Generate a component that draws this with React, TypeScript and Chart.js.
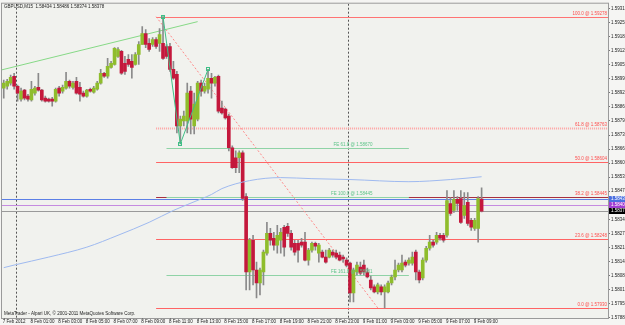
import React, { useEffect, useRef } from 'react';
import { Chart, registerables } from 'chart.js';

Chart.register(...registerables);

const FONT = 'Liberation Sans';
const SLOT_COUNT = 175;

const opens = [
  1.58947, 1.58956, 1.58970, 1.59002, 1.58956, 1.58896, 1.58938, 1.58910, 1.58892, 1.58924,
  1.58951, 1.58938, 1.58901, 1.58896, 1.58896, 1.58887, 1.58947, 1.58933, 1.58947, 1.58979,
  1.58951, 1.58979, 1.58951, 1.58924, 1.58910, 1.58942, 1.58928, 1.58942, 1.58970, 1.59016,
  1.59002, 1.59043, 1.59057, 1.59094, 1.59117, 1.59062, 1.59080, 1.59071, 1.59057, 1.59103,
  1.59149, 1.59200, 1.59154, 1.59149, 1.59172, 1.59154, 1.59154, 1.59140, 1.59140, 1.59034,
  1.59011, 1.58772, 1.58795, 1.58795, 1.58933, 1.58772, 1.58804, 1.58970, 1.58933, 1.58942,
  1.58993, 1.58970, 1.59002, 1.58855, 1.58850, 1.58818, 1.58671, 1.58625, 1.58625, 1.58648,
  1.58445, 1.58096, 1.58243, 1.58105, 1.58045, 1.58096, 1.58183, 1.58275, 1.58252, 1.58220,
  1.58243, 1.58303, 1.58307, 1.58275, 1.58229, 1.58229, 1.58234, 1.58234, 1.58151, 1.58197,
  1.58229, 1.58183, 1.58188, 1.58165, 1.58165, 1.58188, 1.58183, 1.58174, 1.58165, 1.58151,
  1.58137, 1.57999, 1.58096, 1.58119, 1.58128, 1.58096, 1.58059, 1.58027, 1.58004, 1.58027,
  1.58004, 1.58004, 1.58045, 1.58073, 1.58105, 1.58105, 1.58142, 1.58137, 1.58137, 1.58188,
  1.58096, 1.58068, 1.58151, 1.58206, 1.58234, 1.58234, 1.58266, 1.58266, 1.58266, 1.58413,
  1.58381, 1.58432, 1.58436, 1.58358, 1.58418, 1.58335, 1.58298, 1.58298, 1.58434,
];
const highs = [
  1.58984, 1.58988, 1.59007, 1.59016, 1.58961, 1.58947, 1.58942, 1.58919, 1.58979, 1.58956,
  1.59016, 1.58942, 1.58910, 1.58901, 1.58905, 1.58947, 1.58956, 1.58961, 1.59020, 1.58984,
  1.58979, 1.58997, 1.58974, 1.58933, 1.58942, 1.58947, 1.58956, 1.58979, 1.59034, 1.59020,
  1.59085, 1.59071, 1.59135, 1.59135, 1.59122, 1.59094, 1.59103, 1.59103, 1.59112, 1.59163,
  1.59232, 1.59218, 1.59177, 1.59181, 1.59181, 1.59223, 1.59278, 1.59149, 1.59154, 1.59071,
  1.59025, 1.58818, 1.58841, 1.58970, 1.58956, 1.58924, 1.58979, 1.58984, 1.58970, 1.59034,
  1.59016, 1.59002, 1.59007, 1.58887, 1.58855, 1.58827, 1.58680, 1.58657, 1.58657, 1.58657,
  1.58459, 1.58252, 1.58266, 1.58142, 1.58114, 1.58197, 1.58326, 1.58298, 1.58280, 1.58312,
  1.58298, 1.58312, 1.58321, 1.58289, 1.58243, 1.58243, 1.58252, 1.58280, 1.58206, 1.58234,
  1.58234, 1.58229, 1.58197, 1.58197, 1.58206, 1.58197, 1.58197, 1.58188, 1.58174, 1.58161,
  1.58142, 1.58114, 1.58142, 1.58142, 1.58151, 1.58114, 1.58077, 1.58036, 1.58045, 1.58036,
  1.58036, 1.58054, 1.58082, 1.58151, 1.58137, 1.58174, 1.58151, 1.58161, 1.58188, 1.58197,
  1.58105, 1.58161, 1.58215, 1.58266, 1.58243, 1.58280, 1.58275, 1.58275, 1.58473, 1.58441,
  1.58473, 1.58445, 1.58473, 1.58464, 1.58464, 1.58344, 1.58344, 1.58445, 1.58486,
];
const lows = [
  1.58901, 1.58942, 1.58961, 1.58942, 1.58887, 1.58887, 1.58892, 1.58887, 1.58887, 1.58915,
  1.58933, 1.58887, 1.58882, 1.58882, 1.58864, 1.58882, 1.58910, 1.58924, 1.58942, 1.58947,
  1.58942, 1.58919, 1.58887, 1.58905, 1.58905, 1.58928, 1.58924, 1.58938, 1.58965, 1.58997,
  1.58993, 1.59039, 1.59053, 1.59089, 1.59011, 1.59011, 1.59048, 1.58993, 1.59053, 1.59057,
  1.59149, 1.59135, 1.59117, 1.59140, 1.59131, 1.59117, 1.59080, 1.59085, 1.59025, 1.58988,
  1.58740, 1.58689, 1.58772, 1.58740, 1.58735, 1.58735, 1.58795, 1.58910, 1.58924, 1.58924,
  1.58901, 1.58956, 1.58832, 1.58827, 1.58804, 1.58657, 1.58575, 1.58556, 1.58556, 1.58427,
  1.58013, 1.58013, 1.58036, 1.57976, 1.57990, 1.58036, 1.58174, 1.58220, 1.58197, 1.58183,
  1.58183, 1.58169, 1.58261, 1.58197, 1.58174, 1.58142, 1.58211, 1.58147, 1.58128, 1.58188,
  1.58197, 1.58142, 1.58161, 1.58137, 1.58161, 1.58165, 1.58156, 1.58147, 1.58142, 1.58119,
  1.57958, 1.57958, 1.58082, 1.58082, 1.58082, 1.58068, 1.58013, 1.57999, 1.57995, 1.57990,
  1.57930, 1.57999, 1.58036, 1.58059, 1.58096, 1.58096, 1.58119, 1.58128, 1.58128, 1.58059,
  1.58045, 1.58059, 1.58142, 1.58197, 1.58211, 1.58225, 1.58243, 1.58234, 1.58257, 1.58358,
  1.58372, 1.58381, 1.58321, 1.58344, 1.58312, 1.58289, 1.58289, 1.58234, 1.58374,
];
const closes = [
  1.58970, 1.58979, 1.58997, 1.58956, 1.58924, 1.58933, 1.58901, 1.58896, 1.58942, 1.58947,
  1.58938, 1.58892, 1.58887, 1.58887, 1.58887, 1.58942, 1.58924, 1.58951, 1.58979, 1.58956,
  1.58970, 1.58924, 1.58919, 1.58910, 1.58938, 1.58933, 1.58947, 1.58970, 1.59016, 1.59002,
  1.59048, 1.59062, 1.59131, 1.59126, 1.59016, 1.59025, 1.59057, 1.59043, 1.59103, 1.59149,
  1.59200, 1.59149, 1.59126, 1.59172, 1.59140, 1.59195, 1.59085, 1.59094, 1.59034, 1.58993,
  1.58772, 1.58804, 1.58818, 1.58924, 1.58804, 1.58873, 1.58970, 1.58933, 1.58956, 1.58993,
  1.58970, 1.58997, 1.58841, 1.58832, 1.58809, 1.58671, 1.58579, 1.58579, 1.58648, 1.58436,
  1.58096, 1.58243, 1.58105, 1.58045, 1.58105, 1.58188, 1.58275, 1.58243, 1.58220, 1.58266,
  1.58280, 1.58211, 1.58275, 1.58211, 1.58188, 1.58197, 1.58220, 1.58151, 1.58197, 1.58229,
  1.58215, 1.58220, 1.58165, 1.58142, 1.58197, 1.58174, 1.58165, 1.58151, 1.58156, 1.58128,
  1.57999, 1.58105, 1.58128, 1.58091, 1.58096, 1.58073, 1.58022, 1.58004, 1.58036, 1.58004,
  1.58027, 1.58045, 1.58073, 1.58105, 1.58128, 1.58137, 1.58128, 1.58151, 1.58165, 1.58096,
  1.58059, 1.58151, 1.58206, 1.58234, 1.58220, 1.58266, 1.58252, 1.58243, 1.58427, 1.58367,
  1.58432, 1.58413, 1.58326, 1.58404, 1.58321, 1.58303, 1.58335, 1.58436, 1.58378,
];

// Moving average (sparse points, bar index -> price)
const maIndex = [0, 3, 13, 24, 33, 42, 49, 57, 60, 63, 71, 80, 89, 100, 117, 129, 138];
const maValue = [1.58116, 1.58128, 1.58165, 1.58211, 1.58266, 1.58326, 1.58381, 1.58434, 1.58455,
  1.58482, 1.58519, 1.58533, 1.58528, 1.58524, 1.58514, 1.58524, 1.58537];

const yTicks = [1.57885, 1.5795, 1.58015, 1.5808, 1.58145, 1.5821, 1.58275, 1.5834, 1.58405, 1.5847,
  1.58535, 1.586, 1.58665, 1.5873, 1.58795, 1.5886, 1.58925, 1.5899, 1.59055, 1.5912, 1.59185, 1.5925, 1.59315];
const Y_MIN = 1.57883;
const Y_MAX = 1.59338;

const xTickIndex = [0, 8, 16, 24, 32, 40, 48, 56, 64, 72, 80, 88, 96, 104, 112, 120, 128, 136];
const xTickText = ['7 Feb 2012', '8 Feb 01:00', '8 Feb 03:00', '8 Feb 05:00', '8 Feb 07:00', '8 Feb 09:00',
  '8 Feb 11:00', '8 Feb 13:00', '8 Feb 15:00', '8 Feb 17:00', '8 Feb 19:00', '8 Feb 21:00', '8 Feb 23:00',
  '9 Feb 01:00', '9 Feb 03:00', '9 Feb 05:00', '9 Feb 07:00', '9 Feb 09:00'];

const fibLevels = [100, 61.8, 50, 38.2, 23.6, 0];
const fibPrices = [1.59278, 1.58763, 1.58604, 1.58445, 1.58248, 1.5793];
const fibColors = ['#ff7373', '#ffa3a3', '#ff6464', '#a8303f', '#ff6464', '#ff6464'];
const fibStartIndex = 44;
const fibDiagEndIndex = 108;

const feLevels = [61.8, 100, 161.8];
const fePrices = [1.5867, 1.58445, 1.58081];
const feStartIndex = 47;
const feEndIndex = 117;
const feLabelIndex = 106.5;

const zigIndex = [46, 51, 59];
const zigPrice = [1.59278, 1.58689, 1.59034];

const trendIndex = [-1, 56];
const trendPrice = [1.5903, 1.59255];

const separatorIndex = [4, 100];

const blueLinePrice = 1.58436;
const purpleLinePrice = 1.58404;

const headerText = 'GBPUSD,M15  1.58434 1.58486 1.58374 1.58378';
const footerText = 'MetaTrader - Alpari UK, \u00a9 2001-2011 MetaQuotes Software Corp.';

const BULL = '#8fbd2c';
const BEAR = '#c4183c';
const WICK = '#8a8a8a';

function pad<T>(arr: T[]): (T | null)[] {
  const out: (T | null)[] = arr.slice();
  while (out.length < SLOT_COUNT) out.push(null);
  return out;
}

const categories: string[] = [];
for (let i = 0; i < SLOT_COUNT; i++) categories.push(String(i));

function line(ctx: CanvasRenderingContext2D, x1: number, y1: number, x2: number, y2: number, color: string, width = 1, dash: number[] = []) {
  ctx.beginPath();
  ctx.strokeStyle = color;
  ctx.lineWidth = width;
  ctx.setLineDash(dash);
  ctx.moveTo(x1, y1);
  ctx.lineTo(x2, y2);
  ctx.stroke();
  ctx.setLineDash([]);
}
const crisp = (v: number) => Math.round(v) + 0.5;

const mtPlugin = {
  id: 'mtObjects',
  beforeDraw(chart: any) {
    const { ctx, chartArea: a, width, height } = chart;
    ctx.save();
    ctx.fillStyle = '#f5f5f3';
    ctx.fillRect(0, 0, width, height);
    ctx.fillStyle = '#f1f2ee';
    ctx.fillRect(a.left, a.top, a.right - a.left, a.bottom - a.top);
    ctx.restore();
  },
  beforeDatasetsDraw(chart: any) {
    const { ctx, chartArea: a } = chart;
    const xs = chart.scales.x;
    const ys = chart.scales.y;
    const w = xs.getPixelForValue(1) - xs.getPixelForValue(0);
    ctx.save();
    ctx.beginPath();
    ctx.rect(a.left, a.top, a.right - a.left, a.bottom - a.top);
    ctx.clip();
    separatorIndex.forEach((i) => {
      const x = crisp(xs.getPixelForValue(i) - w / 2);
      line(ctx, x, a.top, x, a.bottom, '#555', 1, [2, 2]);
    });
    line(ctx, a.left, crisp(ys.getPixelForValue(purpleLinePrice)), a.right, crisp(ys.getPixelForValue(purpleLinePrice)), '#c58be0', 1);
    const bid = closes[closes.length - 1];
    line(ctx, a.left, crisp(ys.getPixelForValue(bid)), a.right, crisp(ys.getPixelForValue(bid)), '#9a9a9a', 1);
    line(ctx, a.left, crisp(ys.getPixelForValue(blueLinePrice)), a.right, crisp(ys.getPixelForValue(blueLinePrice)), '#5b7fe6', 1);
    const fx = xs.getPixelForValue(fibStartIndex);
    fibPrices.forEach((p, k) => {
      const y = crisp(ys.getPixelForValue(p));
      if (fibLevels[k] === 61.8) line(ctx, fx, y, a.right, y, fibColors[k], 2, [1, 1]);
      else line(ctx, fx, y, a.right, y, fibColors[k], 1);
    });
    line(ctx, fx, ys.getPixelForValue(fibPrices[0]), xs.getPixelForValue(fibDiagEndIndex),
      ys.getPixelForValue(fibPrices[fibPrices.length - 1]), '#ff8a8a', 1, [2, 2]);
    const ex1 = xs.getPixelForValue(feStartIndex);
    const ex2 = xs.getPixelForValue(feEndIndex);
    fePrices.forEach((p) => {
      const y = crisp(ys.getPixelForValue(p));
      line(ctx, ex1, y, ex2, y, '#8fd3a6', 1);
    });
    line(ctx, xs.getPixelForValue(trendIndex[0]), ys.getPixelForValue(trendPrice[0]),
      xs.getPixelForValue(trendIndex[1]), ys.getPixelForValue(trendPrice[1]), '#86d986', 1);
    ctx.restore();
  },
  afterDatasetsDraw(chart: any) {
    const { ctx, chartArea: a } = chart;
    const xs = chart.scales.x;
    const ys = chart.scales.y;
    ctx.save();
    ctx.beginPath();
    ctx.rect(a.left, a.top, a.right - a.left, a.bottom - a.top);
    ctx.clip();
    ctx.beginPath();
    ctx.strokeStyle = '#3fbf86';
    ctx.lineWidth = 1;
    zigIndex.forEach((i, k) => {
      const x = xs.getPixelForValue(i);
      const y = ys.getPixelForValue(zigPrice[k]);
      if (k === 0) ctx.moveTo(x, y); else ctx.lineTo(x, y);
    });
    ctx.stroke();
    zigIndex.forEach((i, k) => {
      const x = Math.round(xs.getPixelForValue(i));
      const y = Math.round(ys.getPixelForValue(zigPrice[k]));
      ctx.strokeRect(x - 1.5, y - 1.5, 3, 3);
    });
    ctx.font = `4.5px "${FONT}"`;
    ctx.textBaseline = 'bottom';
    ctx.textAlign = 'right';
    fibPrices.forEach((p, k) => {
      ctx.fillStyle = '#ff4d4d';
      ctx.fillText(`${fibLevels[k].toFixed(1)} @ ${p.toFixed(5)}`, a.right - 1, Math.round(ys.getPixelForValue(p)) - 0.5);
    });
    const lx = xs.getPixelForValue(feLabelIndex);
    fePrices.forEach((p, k) => {
      ctx.fillStyle = '#5cc488';
      ctx.fillText(`FE ${feLevels[k].toFixed(1)} @ ${p.toFixed(5)}`, lx, Math.round(ys.getPixelForValue(p)) - 0.5);
    });
    ctx.textAlign = 'left';
    ctx.fillStyle = '#222';
    ctx.textBaseline = 'top';
    ctx.fillText(headerText, a.left + 2, a.top + 1);
    ctx.textBaseline = 'bottom';
    ctx.fillText(footerText, a.left + 2, a.bottom - 2);
    ctx.restore();
  },
  afterDraw(chart: any) {
    const { ctx, chartArea: a, width } = chart;
    const xs = chart.scales.x;
    const ys = chart.scales.y;
    ctx.save();
    ctx.strokeStyle = '#9a9a9a';
    ctx.lineWidth = 1;
    ctx.strokeRect(a.left - 0.5, a.top - 0.5, a.right - a.left + 1, a.bottom - a.top + 1);
    // time axis labels, placed by the category scale
    ctx.font = `4.5px "${FONT}"`;
    ctx.fillStyle = '#222';
    ctx.textBaseline = 'top';
    ctx.textAlign = 'left';
    xTickIndex.forEach((i, k) => {
      const x = xs.getPixelForValue(i);
      ctx.fillText(xTickText[k], x - 1, a.bottom + 1.5);
      line(ctx, crisp(x), a.bottom, crisp(x), a.bottom + 1.5, '#777', 1);
    });
    const boxes = [
      { p: blueLinePrice, bg: '#4b6fe0' },
      { p: purpleLinePrice, bg: '#a33fd3' },
      { p: closes[closes.length - 1], bg: '#000000' },
    ];
    ctx.textBaseline = 'middle';
    boxes.forEach((b) => {
      const y = Math.round(ys.getPixelForValue(b.p));
      ctx.fillStyle = b.bg;
      ctx.fillRect(a.right + 1, y - 3, width - a.right - 1, 6);
      ctx.fillStyle = '#ffffff';
      ctx.fillText(b.p.toFixed(5), a.right + 3, y);
    });
    ctx.restore();
  },
};

export default function App() {
  const ref = useRef<HTMLCanvasElement>(null);
  useEffect(() => {
    if (!ref.current) return;
    const wickData = pad(lows.map((l, i) => [l, highs[i]]));
    const bodyData = pad(opens.map((o, i) => [o, closes[i]]));
    const bodyColors = pad(opens.map((o, i) => (closes[i] >= o ? BULL : BEAR)));
    const maData: (number | null)[] = new Array(SLOT_COUNT).fill(null);
    maIndex.forEach((i, k) => { maData[i] = maValue[k]; });

    const chart = new Chart(ref.current, {
      type: 'bar',
      data: {
        labels: categories,
        datasets: [
          { type: 'bar', data: wickData as any, backgroundColor: WICK, barThickness: 1, grouped: false, order: 3 } as any,
          { type: 'bar', data: bodyData as any, backgroundColor: bodyColors as any, barThickness: 3, grouped: false, order: 2 } as any,
          { type: 'line', data: maData as any, borderColor: '#9fbaf0', borderWidth: 1, pointRadius: 0, spanGaps: true,
            cubicInterpolationMode: 'monotone', order: 1 } as any,
        ],
      },
      options: {
        responsive: false,
        devicePixelRatio: 1,
        animation: false,
        events: [],
        layout: { padding: { left: 2, top: 2, right: 0, bottom: 0 } },
        plugins: { legend: { display: false }, tooltip: { enabled: false } },
        scales: {
          x: {
            type: 'category',
            offset: true,
            grid: { display: false },
            border: { display: false },
            afterFit: (s: any) => { s.height = 7; },
            ticks: { display: false },
          },
          y: {
            position: 'right',
            min: Y_MIN,
            max: Y_MAX,
            afterBuildTicks: (s: any) => { s.ticks = yTicks.map((v) => ({ value: v })); },
            afterFit: (s: any) => { s.width = 17; },
            grid: { drawOnChartArea: false, drawTicks: true, tickLength: 2, color: '#777' },
            border: { display: false },
            ticks: {
              padding: 1,
              color: '#222',
              font: { family: FONT, size: 4.5 },
              callback: (v: any) => Number(v).toFixed(5),
            },
          },
        },
      },
      plugins: [mtPlugin],
    } as any);
    return () => chart.destroy();
  }, []);
  return (
    <div style={{ position: 'absolute', left: 0, top: 0, width: 625, height: 325 }}>
      <canvas ref={ref} width={625} height={325} style={{ display: 'block' }} />
    </div>
  );
}
